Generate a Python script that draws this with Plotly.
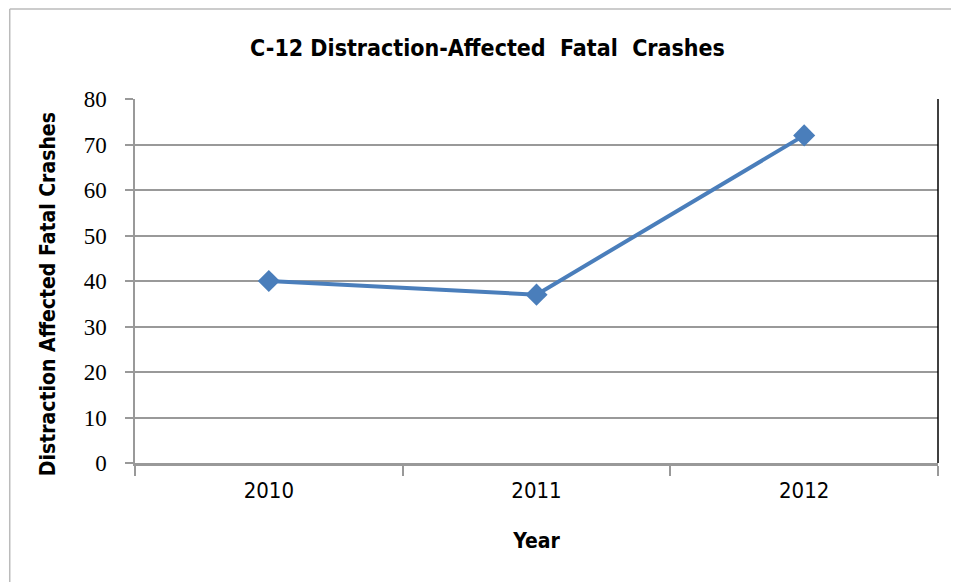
import plotly.graph_objects as go

years = ["2010", "2011", "2012"]
crashes = [40, 37, 72]
y_ticks = [0, 10, 20, 30, 40, 50, 60, 70, 80]

TITLE = "C-12 Distraction-Affected&nbsp; Fatal&nbsp; Crashes"
NARROW = "DejaVu Sans Condensed, Roboto, sans-serif"

fig = go.Figure()
fig.add_scatter(
    x=years, y=crashes, mode="lines+markers",
    line=dict(color="#4a7ebb", width=4),
    marker=dict(symbol="diamond", size=17, color="#4a7ebb"),
    showlegend=False,
)

# page body has an 8px margin, so the figure is offset by 8px
fig.update_layout(
    width=959, height=582,
    margin=dict(l=127, r=29, t=91, b=127),
    paper_bgcolor="white", plot_bgcolor="white",
    title=dict(text="<b>" + TITLE + "</b>", x=0.5, xanchor="center",
               y=0.931, yanchor="middle",
               font=dict(family=NARROW, size=23, color="#000")),
)

fig.update_xaxes(
    type="category", range=[-0.5, 2.5], automargin=False,
    tickson="boundaries", ticks="outside", ticklen=10, tickcolor="#999",
    tickwidth=1.5, ticklabelstandoff=6,
    showline=True, linecolor="#999", linewidth=2.5,
    showgrid=False,
    tickfont=dict(family=NARROW, size=22, color="#000"),
    title=dict(text="<b>Year</b>", standoff=32,
               font=dict(family=NARROW, size=21, color="#000")),
)
fig.update_yaxes(
    range=[0, 80], tickvals=y_ticks, automargin=False,
    ticks="outside", ticklen=8, tickcolor="#999", tickwidth=1.5,
    ticklabelstandoff=14,
    showline=True, linecolor="#999", linewidth=1.5,
    showgrid=True, gridcolor="#999", gridwidth=1.5, zeroline=False,
    tickfont=dict(family="Liberation Serif, DejaVu Serif, serif", size=23, color="#000"),
)

fig.add_annotation(
    text="<b>Distraction Affected Fatal Crashes</b>", textangle=-90,
    xref="paper", yref="paper", x=-0.1083, y=0.464, showarrow=False,
    xanchor="center", yanchor="middle",
    font=dict(family=NARROW, size=21, color="#000"),
)

# black line on the right edge of the plot area
fig.add_shape(type="line", xref="x domain", yref="y", x0=1, x1=1, y0=0, y1=80,
              line=dict(color="#000", width=1.5))
# outer chart border (top and left edges visible)
fig.add_shape(type="line", xref="paper", yref="paper", x0=-0.156, x1=1.1,
              y0=1.247, y1=1.247, line=dict(color="#bbb", width=1.5))
fig.add_shape(type="line", xref="paper", yref="paper", x0=-0.156, x1=-0.156,
              y0=1.247, y1=-0.4, line=dict(color="#bbb", width=1.5))

fig.write_html("out.html")
